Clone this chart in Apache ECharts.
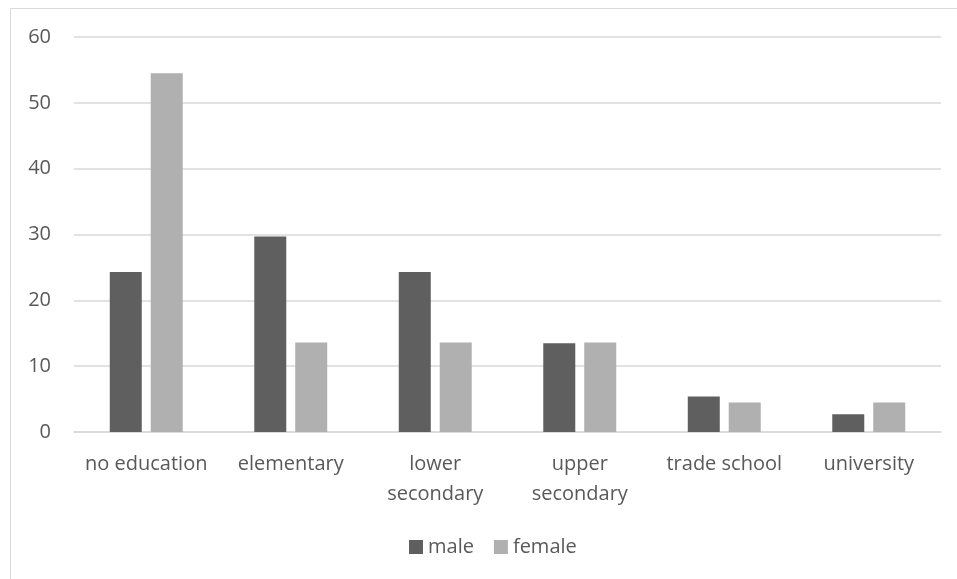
<!DOCTYPE html>
<html>
<head>
<meta charset="utf-8">
<script src="https://cdn.jsdelivr.net/npm/echarts@6/dist/echarts.min.js"></script>
<style>
html, body { margin: 0; padding: 0; background: #fff; }
#chart { width: 957px; height: 579px; }
</style>
</head>
<body>
<div id="chart"></div>
<script>
// 数据
var categories = ['no education', 'elementary', 'lower\nsecondary', 'upper\nsecondary', 'trade school', 'university'];
var maleValues = [24.3, 29.7, 24.3, 13.5, 5.4, 2.7];
var femaleValues = [54.5, 13.6, 13.6, 13.6, 4.5, 4.5];
var seriesNames = ['male', 'female'];

var textFont = 'Open Sans';
var chart = echarts.init(document.getElementById('chart'));

var option = {
    animation: false,
    backgroundColor: '#fff',
    // 图表外框
    graphic: [{
        type: 'rect',
        shape: { x: 10.5, y: 8.5, width: 1000, height: 700 },
        style: { fill: 'none', stroke: '#d9d9d9', lineWidth: 1 },
        silent: true
    }],
    grid: { left: 74, right: 16, top: 37, bottom: 147 },
    legend: {
        data: seriesNames,
        top: 537,
        padding: 0,
        left: 409,
        itemWidth: 14,
        itemHeight: 14,
        itemGap: 20,
        icon: 'rect',
        textStyle: { color: '#595959', fontSize: 20, fontFamily: textFont }
    },
    xAxis: {
        type: 'category',
        data: categories,
        axisLine: { lineStyle: { color: '#d9d9d9', width: 1.5 } },
        axisTick: { show: false },
        axisLabel: {
            color: '#595959', fontSize: 20, fontFamily: textFont,
            margin: 17, lineHeight: 30, interval: 0
        }
    },
    yAxis: {
        type: 'value',
        min: 0,
        max: 60,
        interval: 10,
        axisLine: { show: false },
        axisTick: { show: false },
        splitLine: { lineStyle: { color: '#d9d9d9', width: 1.5 } },
        axisLabel: { color: '#595959', fontSize: 20, fontFamily: textFont, margin: 23 }
    },
    series: [
        {
            name: seriesNames[0],
            type: 'bar',
            data: maleValues,
            barWidth: 32,
            barGap: '28%',
            itemStyle: { color: '#5f5f5f' }
        },
        {
            name: seriesNames[1],
            type: 'bar',
            data: femaleValues,
            barWidth: 32,
            barGap: '28%',
            itemStyle: { color: '#b0b0b0' }
        }
    ]
};

chart.setOption(option);
</script>
</body>
</html>
